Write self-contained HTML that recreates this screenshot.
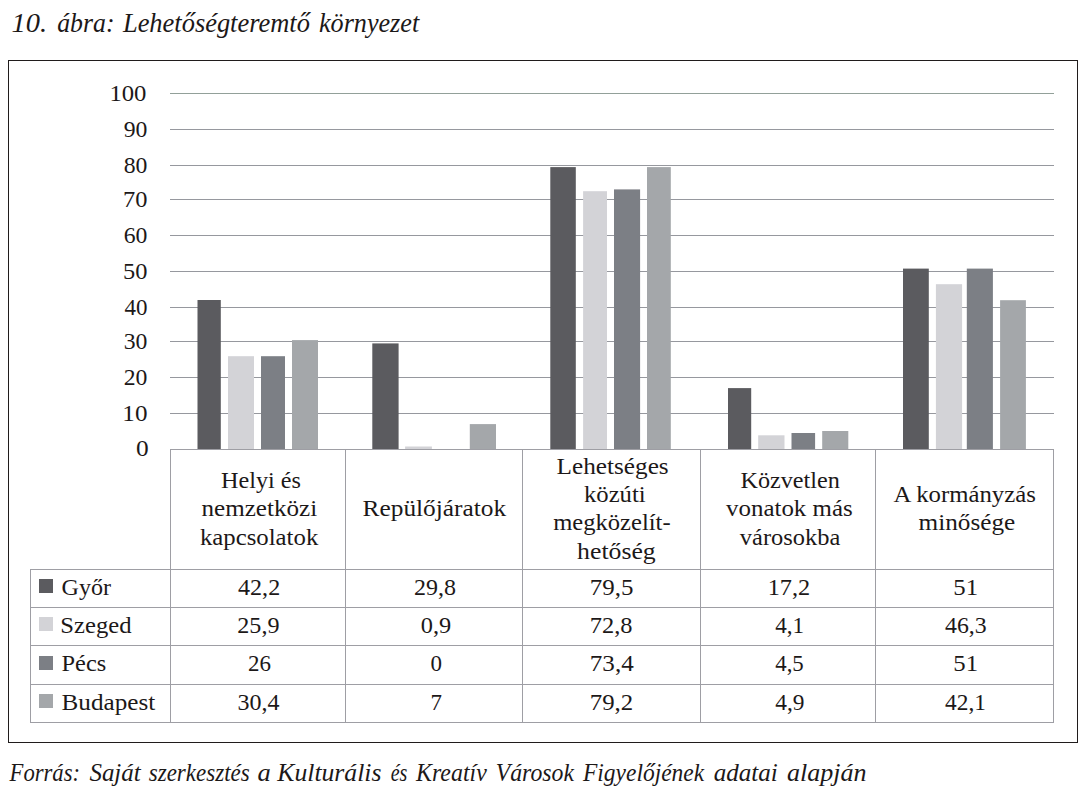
<!DOCTYPE html>
<html><head><meta charset="utf-8"><style>
html,body{margin:0;padding:0;background:#fff;}
body{width:1089px;height:802px;position:relative;overflow:hidden;}
svg{position:absolute;left:0;top:0;}
.t{font-family:"Liberation Serif",serif;font-size:23.5px;fill:#1c1818;}
.tn{font-family:"Liberation Serif",serif;font-size:24px;fill:#1c1818;}
.it{font-family:"Liberation Serif",serif;font-style:italic;fill:#1c1818;}
</style></head><body>
<svg width="1089" height="802" viewBox="0 0 1089 802" shape-rendering="crispEdges">
<rect x="8" y="60" width="1070" height="1" fill="#201c1c"/>
<rect x="8" y="742" width="1070" height="1" fill="#201c1c"/>
<rect x="8" y="60" width="1" height="683" fill="#201c1c"/>
<rect x="1077" y="60" width="1" height="683" fill="#201c1c"/>
<rect x="170" y="93" width="884" height="1" fill="rgb(146,160,153)"/>
<rect x="170" y="129" width="884" height="1" fill="rgb(150,152,158)"/>
<rect x="170" y="165" width="884" height="1" fill="rgb(150,152,158)"/>
<rect x="170" y="199" width="884" height="1" fill="rgb(150,152,158)"/>
<rect x="170" y="235" width="884" height="1" fill="rgb(150,152,158)"/>
<rect x="170" y="271" width="884" height="1" fill="rgb(150,152,158)"/>
<rect x="170" y="307" width="884" height="1" fill="rgb(150,152,158)"/>
<rect x="170" y="341" width="884" height="1" fill="rgb(150,152,158)"/>
<rect x="170" y="377" width="884" height="1" fill="rgb(150,152,158)"/>
<rect x="170" y="413" width="884" height="1" fill="rgb(150,152,158)"/>
<rect x="170" y="449" width="884" height="1" fill="rgb(158,158,164)"/>
<rect x="170" y="449" width="1" height="274" fill="rgb(158,158,164)"/>
<rect x="345" y="449" width="1" height="274" fill="rgb(158,158,164)"/>
<rect x="522" y="449" width="1" height="274" fill="rgb(158,158,164)"/>
<rect x="700" y="449" width="1" height="274" fill="rgb(158,158,164)"/>
<rect x="875" y="449" width="1" height="274" fill="rgb(158,158,164)"/>
<rect x="1053" y="449" width="1" height="274" fill="rgb(158,158,164)"/>
<rect x="30" y="569" width="1" height="154" fill="rgb(158,158,164)"/>
<rect x="30" y="569" width="1024" height="1" fill="rgb(158,158,164)"/>
<rect x="30" y="607" width="1024" height="1" fill="rgb(158,158,164)"/>
<rect x="30" y="645" width="1024" height="1" fill="rgb(158,158,164)"/>
<rect x="30" y="684" width="1024" height="1" fill="rgb(158,158,164)"/>
<rect x="30" y="722" width="1024" height="1" fill="rgb(158,158,164)"/>
<rect x="38.5" y="579" width="14.5" height="14" fill="rgb(91,91,95)"/>
<rect x="38.5" y="617" width="14.5" height="14" fill="rgb(211,211,215)"/>
<rect x="38.5" y="656" width="14.5" height="14" fill="rgb(124,127,133)"/>
<rect x="38.5" y="694" width="14.5" height="14" fill="rgb(164,167,170)"/>
</svg>
<svg width="1089" height="802" viewBox="0 0 1089 802">
<rect x="197.5" y="300.0" width="23.3" height="149.0" fill="rgb(91,91,95)"/>
<rect x="228.0" y="356.2" width="26.0" height="92.8" fill="rgb(211,211,215)"/>
<rect x="261.0" y="356.2" width="24.0" height="92.8" fill="rgb(124,127,133)"/>
<rect x="292.0" y="340.1" width="26.0" height="108.9" fill="rgb(164,167,170)"/>
<rect x="372.3" y="343.4" width="26.3" height="105.6" fill="rgb(91,91,95)"/>
<rect x="405.1" y="446.5" width="26.8" height="2.5" fill="rgb(211,211,215)"/>
<rect x="469.8" y="424.1" width="26.2" height="24.9" fill="rgb(164,167,170)"/>
<rect x="550.3" y="167.1" width="25.5" height="281.9" fill="rgb(91,91,95)"/>
<rect x="583.1" y="191.2" width="23.9" height="257.8" fill="rgb(211,211,215)"/>
<rect x="614.0" y="189.4" width="26.1" height="259.6" fill="rgb(124,127,133)"/>
<rect x="647.0" y="167.1" width="23.8" height="281.9" fill="rgb(164,167,170)"/>
<rect x="728.0" y="388.1" width="23.2" height="60.9" fill="rgb(91,91,95)"/>
<rect x="758.2" y="435.3" width="26.3" height="13.7" fill="rgb(211,211,215)"/>
<rect x="791.5" y="433.0" width="23.6" height="16.0" fill="rgb(124,127,133)"/>
<rect x="822.2" y="431.0" width="26.1" height="18.0" fill="rgb(164,167,170)"/>
<rect x="903.0" y="268.6" width="25.8" height="180.4" fill="rgb(91,91,95)"/>
<rect x="935.9" y="284.2" width="26.2" height="164.8" fill="rgb(211,211,215)"/>
<rect x="966.8" y="268.6" width="26.1" height="180.4" fill="rgb(124,127,133)"/>
<rect x="1000.1" y="300.2" width="25.8" height="148.8" fill="rgb(164,167,170)"/>
</svg>
<svg width="1089" height="802" viewBox="0 0 1089 802">
<text x="109.42" y="101.2" class="tn" textLength="37.06" lengthAdjust="spacingAndGlyphs">100</text>
<text x="123.78" y="137.2" class="tn" textLength="23.70" lengthAdjust="spacingAndGlyphs">90</text>
<text x="123.78" y="173.2" class="tn" textLength="23.70" lengthAdjust="spacingAndGlyphs">80</text>
<text x="123.08" y="207.2" class="tn" textLength="24.40" lengthAdjust="spacingAndGlyphs">70</text>
<text x="123.78" y="243.2" class="tn" textLength="23.70" lengthAdjust="spacingAndGlyphs">60</text>
<text x="123.08" y="279.2" class="tn" textLength="24.40" lengthAdjust="spacingAndGlyphs">50</text>
<text x="124.48" y="315.2" class="tn" textLength="23.00" lengthAdjust="spacingAndGlyphs">40</text>
<text x="123.78" y="349.2" class="tn" textLength="23.70" lengthAdjust="spacingAndGlyphs">30</text>
<text x="123.78" y="385.2" class="tn" textLength="23.70" lengthAdjust="spacingAndGlyphs">20</text>
<text x="122.38" y="421.2" class="tn" textLength="25.10" lengthAdjust="spacingAndGlyphs">10</text>
<text x="136.04" y="456" class="tn" textLength="12.68" lengthAdjust="spacingAndGlyphs">0</text>
<text x="221.00" y="487.6" class="t" textLength="79.92" lengthAdjust="spacingAndGlyphs">Helyi és</text>
<text x="201.54" y="515.9" class="t" textLength="115.60" lengthAdjust="spacingAndGlyphs">nemzetközi</text>
<text x="199.92" y="544.8" class="t" textLength="118.38" lengthAdjust="spacingAndGlyphs">kapcsolatok</text>
<text x="362.54" y="515.6" class="t" textLength="143.68" lengthAdjust="spacingAndGlyphs">Repülőjáratok</text>
<text x="556.62" y="473.9" class="t" textLength="112.06" lengthAdjust="spacingAndGlyphs">Lehetséges</text>
<text x="584.00" y="501.7" class="t" textLength="61.68" lengthAdjust="spacingAndGlyphs">közúti</text>
<text x="553.16" y="529.6" class="t" textLength="117.44" lengthAdjust="spacingAndGlyphs">megközelít-</text>
<text x="577.08" y="558.7" class="t" textLength="78.68" lengthAdjust="spacingAndGlyphs">hetőség</text>
<text x="740.46" y="487.6" class="t" textLength="99.46" lengthAdjust="spacingAndGlyphs">Közvetlen</text>
<text x="726.08" y="515.5" class="t" textLength="126.60" lengthAdjust="spacingAndGlyphs">vonatok más</text>
<text x="739.84" y="544.5" class="t" textLength="100.46" lengthAdjust="spacingAndGlyphs">városokba</text>
<text x="893.54" y="501.6" class="t" textLength="142.30" lengthAdjust="spacingAndGlyphs">A kormányzás</text>
<text x="918.62" y="529.5" class="t" textLength="96.68" lengthAdjust="spacingAndGlyphs">minősége</text>
<text x="61.54" y="594.6" class="t" textLength="49.46" lengthAdjust="spacingAndGlyphs">Győr</text>
<text x="238.00" y="594.6" class="tn" textLength="42.18" lengthAdjust="spacingAndGlyphs">42,2</text>
<text x="414.06" y="594.6" class="tn" textLength="41.94" lengthAdjust="spacingAndGlyphs">29,8</text>
<text x="589.82" y="594.6" class="tn" textLength="43.64" lengthAdjust="spacingAndGlyphs">79,5</text>
<text x="767.66" y="594.6" class="tn" textLength="42.54" lengthAdjust="spacingAndGlyphs">17,2</text>
<text x="953.34" y="594.6" class="tn" textLength="24.78" lengthAdjust="spacingAndGlyphs">51</text>
<text x="60.36" y="633.4" class="t" textLength="71.14" lengthAdjust="spacingAndGlyphs">Szeged</text>
<text x="237.30" y="633.4" class="tn" textLength="42.20" lengthAdjust="spacingAndGlyphs">25,9</text>
<text x="420.76" y="633.4" class="tn" textLength="30.46" lengthAdjust="spacingAndGlyphs">0,9</text>
<text x="589.82" y="633.4" class="tn" textLength="42.68" lengthAdjust="spacingAndGlyphs">72,8</text>
<text x="775.24" y="633.4" class="tn" textLength="28.90" lengthAdjust="spacingAndGlyphs">4,1</text>
<text x="945.02" y="633.4" class="tn" textLength="41.68" lengthAdjust="spacingAndGlyphs">46,3</text>
<text x="61.54" y="671.4" class="t" textLength="44.68" lengthAdjust="spacingAndGlyphs">Pécs</text>
<text x="248.02" y="671.4" class="tn" textLength="22.96" lengthAdjust="spacingAndGlyphs">26</text>
<text x="430.52" y="671.4" class="tn" textLength="11.48" lengthAdjust="spacingAndGlyphs">0</text>
<text x="589.82" y="671.4" class="tn" textLength="43.90" lengthAdjust="spacingAndGlyphs">73,4</text>
<text x="775.24" y="671.4" class="tn" textLength="28.50" lengthAdjust="spacingAndGlyphs">4,5</text>
<text x="953.34" y="671.4" class="tn" textLength="24.78" lengthAdjust="spacingAndGlyphs">51</text>
<text x="61.54" y="709.6" class="t" textLength="93.74" lengthAdjust="spacingAndGlyphs">Budapest</text>
<text x="237.56" y="709.6" class="tn" textLength="41.94" lengthAdjust="spacingAndGlyphs">30,4</text>
<text x="430.56" y="709.6" class="tn" textLength="11.44" lengthAdjust="spacingAndGlyphs">7</text>
<text x="589.82" y="709.6" class="tn" textLength="43.38" lengthAdjust="spacingAndGlyphs">79,2</text>
<text x="775.24" y="709.6" class="tn" textLength="29.22" lengthAdjust="spacingAndGlyphs">4,9</text>
<text x="945.02" y="709.6" class="tn" textLength="40.88" lengthAdjust="spacingAndGlyphs">42,1</text>
<text x="11.44" y="32" class="it" style="font-size:28px" textLength="35.56" lengthAdjust="spacingAndGlyphs">10.</text>
<text x="57.26" y="32" class="it" style="font-size:28px" textLength="57.22" lengthAdjust="spacingAndGlyphs">ábra:</text>
<text x="122.94" y="32" class="it" style="font-size:28px" textLength="186.96" lengthAdjust="spacingAndGlyphs">Lehetőségteremtő</text>
<text x="318.94" y="32" class="it" style="font-size:28px" textLength="100.26" lengthAdjust="spacingAndGlyphs">környezet</text>
<text x="9.56" y="781" class="it" style="font-size:26px" textLength="70.44" lengthAdjust="spacingAndGlyphs">Forrás:</text>
<text x="89.42" y="781" class="it" style="font-size:26px" textLength="51.30" lengthAdjust="spacingAndGlyphs">Saját</text>
<text x="148.72" y="781" class="it" style="font-size:26px" textLength="101.04" lengthAdjust="spacingAndGlyphs">szerkesztés</text>
<text x="257.44" y="781" class="it" style="font-size:26px" textLength="13.26" lengthAdjust="spacingAndGlyphs">a</text>
<text x="277.30" y="781" class="it" style="font-size:26px" textLength="104.14" lengthAdjust="spacingAndGlyphs">Kulturális</text>
<text x="390.70" y="781" class="it" style="font-size:26px" textLength="16.70" lengthAdjust="spacingAndGlyphs">és</text>
<text x="416.04" y="781" class="it" style="font-size:26px" textLength="70.74" lengthAdjust="spacingAndGlyphs">Kreatív</text>
<text x="495.70" y="781" class="it" style="font-size:26px" textLength="78.34" lengthAdjust="spacingAndGlyphs">Városok</text>
<text x="582.96" y="781" class="it" style="font-size:26px" textLength="121.22" lengthAdjust="spacingAndGlyphs">Figyelőjének</text>
<text x="713.70" y="781" class="it" style="font-size:26px" textLength="64.08" lengthAdjust="spacingAndGlyphs">adatai</text>
<text x="786.94" y="781" class="it" style="font-size:26px" textLength="79.48" lengthAdjust="spacingAndGlyphs">alapján</text>
</svg>
</body></html>
